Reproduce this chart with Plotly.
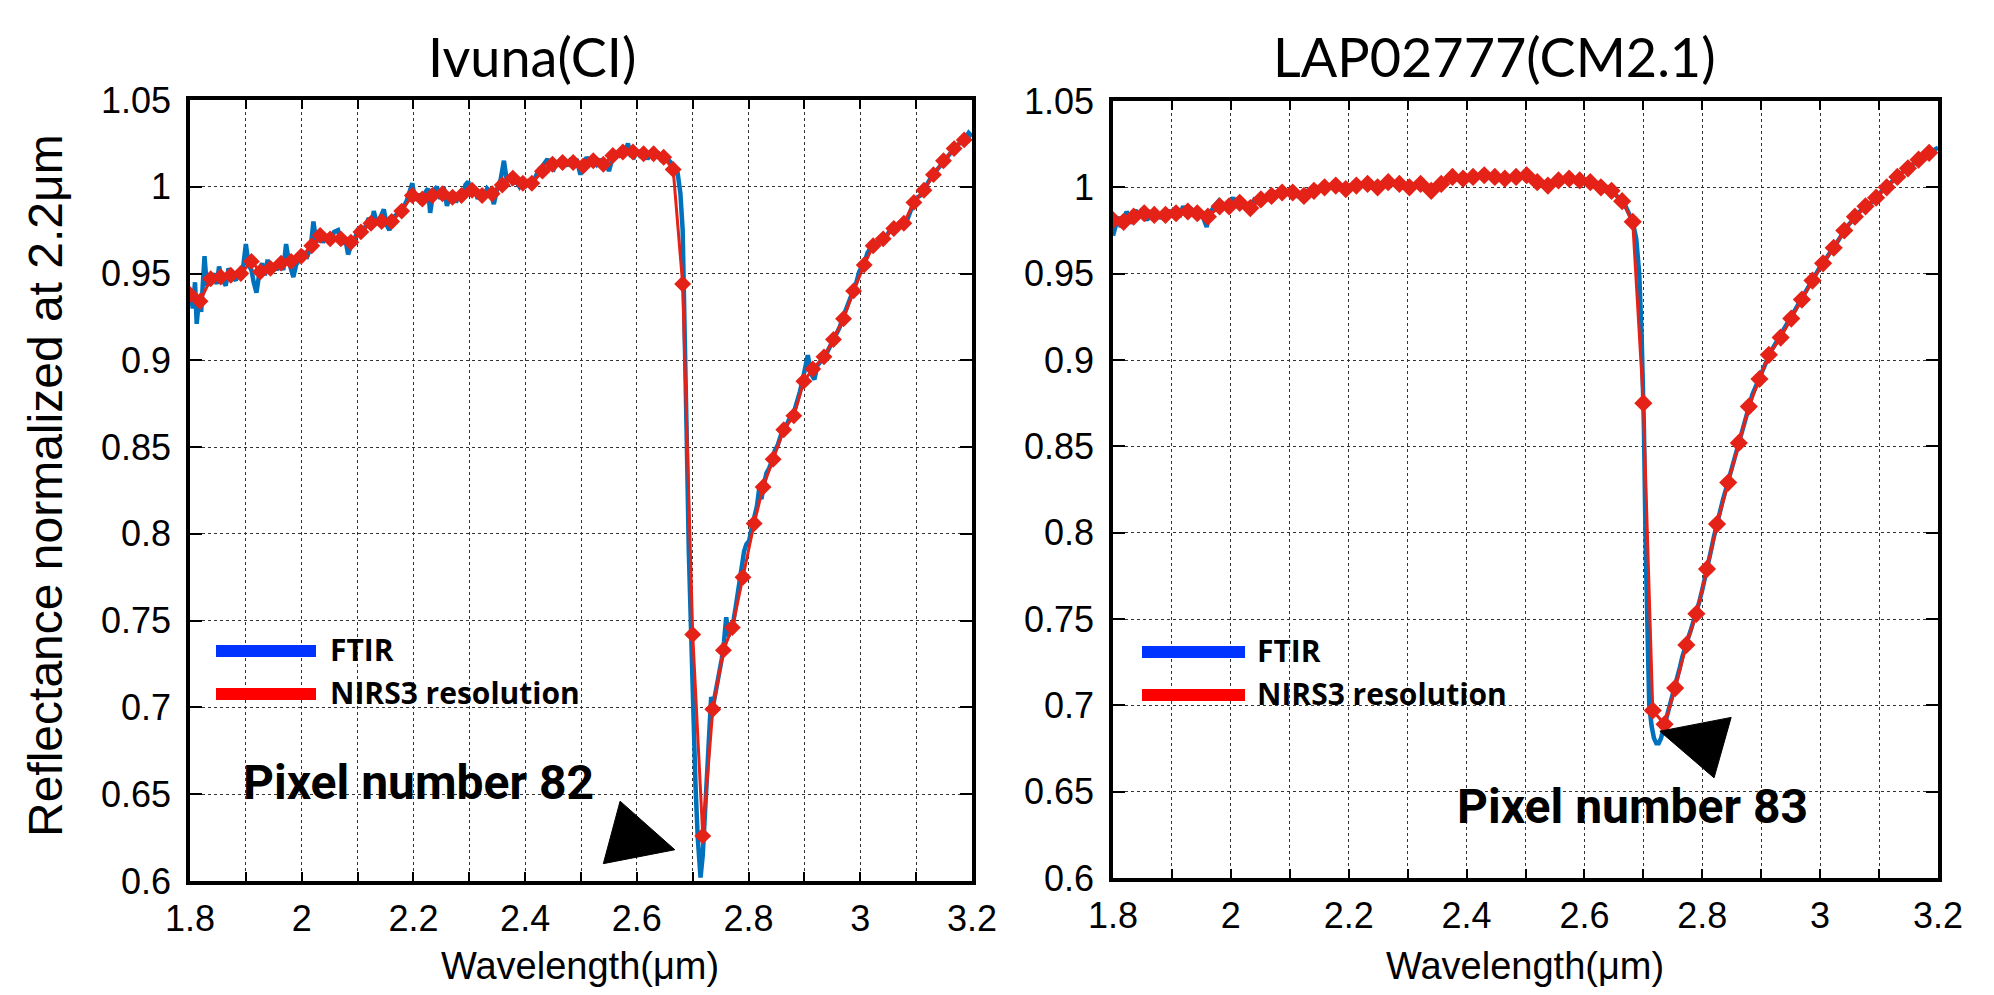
import plotly.graph_objects as go

W, H = 1994, 995

# ---------------- data ----------------
titles = ["Ivuna(CI)", "LAP02777(CM2.1)"]
legend_labels = ["FTIR", "NIRS3 resolution"]
pixel_labels = ["Pixel number 82", "Pixel number 83"]
x_title = "Wavelength(\u03bcm)"
y_title = "Reflectance normalized at 2.2\u03bcm"

x_tickvals = [1.8, 1.9, 2.0, 2.1, 2.2, 2.3, 2.4, 2.5, 2.6, 2.7, 2.8, 2.9, 3.0, 3.1, 3.2]
x_ticktext = ["1.8", "", "2", "", "2.2", "", "2.4", "", "2.6", "", "2.8", "", "3", "", "3.2"]
y_tickvals = [0.6, 0.65, 0.7, 0.75, 0.8, 0.85, 0.9, 0.95, 1.0, 1.05]
y_ticktext = ["0.6", "0.65", "0.7", "0.75", "0.8", "0.85", "0.9", "0.95", "1", "1.05"]

# Ivuna - NIRS3 resolution
ivuna_nirs_x = [1.800, 1.818, 1.837, 1.855, 1.873, 1.891, 1.910, 1.926, 1.944, 1.963,
                1.981, 1.999, 2.018, 2.033, 2.051, 2.070, 2.088, 2.106, 2.124, 2.143,
                2.161, 2.179, 2.198, 2.216, 2.234, 2.252, 2.270, 2.286, 2.305, 2.323,
                2.341, 2.359, 2.378, 2.396, 2.412, 2.431, 2.449, 2.467, 2.486, 2.504,
                2.522, 2.540, 2.557, 2.575, 2.593, 2.612, 2.630, 2.648, 2.665, 2.682,
                2.700, 2.718, 2.736, 2.755, 2.771, 2.790, 2.810, 2.826, 2.844, 2.863,
                2.881, 2.899, 2.915, 2.935, 2.952, 2.970, 2.988, 3.007, 3.023, 3.041,
                3.060, 3.078, 3.096, 3.114, 3.131, 3.149, 3.168, 3.186]
ivuna_nirs_y = [0.938, 0.934, 0.947, 0.948, 0.949, 0.950, 0.957, 0.951, 0.953, 0.956,
                0.957, 0.960, 0.966, 0.972, 0.970, 0.970, 0.968, 0.974, 0.979, 0.980,
                0.980, 0.986, 0.995, 0.993, 0.995, 0.996, 0.994, 0.995, 0.998, 0.995,
                0.996, 1.001, 1.005, 1.002, 1.002, 1.009, 1.013, 1.014, 1.014, 1.012,
                1.015, 1.013, 1.018, 1.020, 1.020, 1.019, 1.019, 1.017, 1.010, 0.944,
                0.742, 0.626, 0.699, 0.733, 0.746, 0.775, 0.806, 0.827, 0.843, 0.860,
                0.868, 0.888, 0.895, 0.902, 0.912, 0.924, 0.940, 0.955, 0.966, 0.970,
                0.976, 0.979, 0.991, 0.998, 1.007, 1.015, 1.022, 1.027]

# Ivuna - FTIR
ivuna_ftir_x = [1.800, 1.805, 1.809, 1.812, 1.816, 1.820, 1.826, 1.830, 1.836, 1.842,
                1.848, 1.852, 1.857, 1.864, 1.869, 1.874, 1.882, 1.887, 1.893, 1.900,
                1.905, 1.910, 1.914, 1.919, 1.924, 1.929, 1.934, 1.939, 1.944, 1.950,
                1.956, 1.962, 1.967, 1.972, 1.977, 1.985, 1.990, 1.996, 2.003, 2.010,
                2.016, 2.021, 2.026, 2.032, 2.038, 2.045, 2.051, 2.058, 2.065, 2.072,
                2.078, 2.083, 2.089, 2.095, 2.101, 2.108, 2.114, 2.120, 2.125, 2.129,
                2.135, 2.141, 2.147, 2.152, 2.157, 2.163, 2.170, 2.176, 2.182, 2.188,
                2.193, 2.198, 2.203, 2.208, 2.214, 2.220, 2.226, 2.230, 2.236, 2.242,
                2.248, 2.254, 2.260, 2.266, 2.271, 2.276, 2.282, 2.288, 2.293, 2.298,
                2.303, 2.309, 2.315, 2.320, 2.326, 2.332, 2.338, 2.344, 2.350, 2.356,
                2.362, 2.367, 2.373, 2.378, 2.384, 2.390, 2.396, 2.402, 2.408, 2.413,
                2.419, 2.425, 2.431, 2.440, 2.445, 2.451, 2.456, 2.462, 2.468, 2.474,
                2.480, 2.486, 2.492, 2.499, 2.505, 2.510, 2.516, 2.522, 2.528, 2.534,
                2.540, 2.545, 2.550, 2.556, 2.562, 2.568, 2.575, 2.580, 2.584, 2.589,
                2.595, 2.601, 2.607, 2.613, 2.619, 2.625, 2.631, 2.637, 2.643, 2.649,
                2.655, 2.661, 2.667, 2.673, 2.678, 2.682, 2.686, 2.689, 2.693, 2.697,
                2.701, 2.705, 2.709, 2.714, 2.718, 2.722, 2.726, 2.730, 2.733, 2.737,
                2.742, 2.747, 2.752, 2.756, 2.760, 2.764, 2.768, 2.772, 2.777, 2.782,
                2.787, 2.792, 2.796, 2.801, 2.806, 2.811, 2.815, 2.819, 2.823, 2.827,
                2.832, 2.837, 2.842, 2.847, 2.852, 2.857, 2.862, 2.867, 2.872, 2.877,
                2.882, 2.887, 2.892, 2.897, 2.902, 2.906, 2.910, 2.914, 2.918, 2.923,
                2.928, 2.933, 2.938, 2.943, 2.948, 2.953, 2.958, 2.963, 2.968, 2.973,
                2.978, 2.983, 2.988, 2.993, 2.998, 3.003, 3.008, 3.013, 3.018, 3.023,
                3.028, 3.033, 3.038, 3.043, 3.048, 3.053, 3.058, 3.063, 3.068, 3.073,
                3.078, 3.083, 3.088, 3.093, 3.098, 3.103, 3.108, 3.113, 3.118, 3.123,
                3.128, 3.133, 3.138, 3.143, 3.148, 3.153, 3.158, 3.163, 3.168, 3.173,
                3.178, 3.183, 3.188, 3.194, 3.200]
ivuna_ftir_y = [0.940, 0.930, 0.945, 0.921, 0.935, 0.928, 0.960, 0.943, 0.946, 0.950,
                0.944, 0.954, 0.947, 0.943, 0.953, 0.949, 0.946, 0.952, 0.948, 0.967,
                0.955, 0.952, 0.945, 0.939, 0.950, 0.956, 0.949, 0.958, 0.951, 0.955,
                0.952, 0.958, 0.952, 0.967, 0.957, 0.948, 0.955, 0.958, 0.962, 0.960,
                0.965, 0.980, 0.968, 0.973, 0.968, 0.972, 0.968, 0.974, 0.975, 0.967,
                0.970, 0.961, 0.967, 0.970, 0.976, 0.972, 0.978, 0.982, 0.976, 0.986,
                0.978, 0.983, 0.987, 0.978, 0.975, 0.982, 0.984, 0.987, 0.988, 0.992,
                0.998, 1.002, 0.992, 0.996, 0.990, 0.996, 0.999, 0.985, 0.998, 1.000,
                0.993, 1.000, 0.989, 0.995, 0.997, 0.991, 0.996, 0.993, 1.001, 1.003,
                0.996, 1.000, 0.993, 0.997, 0.994, 0.999, 0.997, 0.990, 0.999, 1.004,
                1.015, 1.004, 1.006, 1.002, 1.003, 1.000, 1.003, 1.001, 1.004, 1.000,
                1.006, 1.010, 1.012, 1.016, 1.011, 1.010, 1.014, 1.013, 1.016, 1.012,
                1.015, 1.013, 1.016, 1.007, 1.013, 1.017, 1.014, 1.016, 1.013, 1.016,
                1.011, 1.014, 1.009, 1.016, 1.019, 1.018, 1.021, 1.020, 1.025, 1.018,
                1.017, 1.021, 1.017, 1.020, 1.016, 1.019, 1.017, 1.020, 1.016, 1.018,
                1.016, 1.014, 1.012, 1.008, 0.996, 0.975, 0.920, 0.860, 0.790, 0.740,
                0.690, 0.655, 0.625, 0.602, 0.615, 0.640, 0.668, 0.695, 0.706, 0.702,
                0.710, 0.720, 0.728, 0.738, 0.752, 0.741, 0.745, 0.748, 0.758, 0.770,
                0.782, 0.790, 0.794, 0.796, 0.804, 0.811, 0.816, 0.826, 0.820, 0.828,
                0.835, 0.838, 0.842, 0.848, 0.851, 0.856, 0.861, 0.862, 0.866, 0.869,
                0.871, 0.876, 0.882, 0.889, 0.898, 0.903, 0.896, 0.891, 0.889, 0.897,
                0.899, 0.900, 0.903, 0.906, 0.910, 0.912, 0.916, 0.919, 0.924, 0.928,
                0.932, 0.936, 0.940, 0.945, 0.951, 0.954, 0.957, 0.962, 0.965, 0.967,
                0.966, 0.969, 0.968, 0.971, 0.972, 0.975, 0.974, 0.977, 0.976, 0.978,
                0.980, 0.980, 0.985, 0.990, 0.993, 0.994, 0.995, 0.998, 1.001, 1.004,
                1.006, 1.008, 1.010, 1.013, 1.015, 1.017, 1.019, 1.021, 1.022, 1.024,
                1.025, 1.026, 1.028, 1.031, 1.029]

# LAP02777 - NIRS3 resolution
lap_nirs_x = [1.800, 1.818, 1.835, 1.853, 1.870, 1.889, 1.907, 1.927, 1.943, 1.961,
              1.981, 1.997, 2.015, 2.033, 2.051, 2.069, 2.087, 2.105, 2.124, 2.141,
              2.159, 2.178, 2.195, 2.213, 2.232, 2.249, 2.267, 2.286, 2.303, 2.322,
              2.340, 2.357, 2.376, 2.394, 2.411, 2.430, 2.448, 2.465, 2.484, 2.502,
              2.520, 2.538, 2.556, 2.574, 2.592, 2.610, 2.628, 2.646, 2.664, 2.682,
              2.700, 2.716, 2.736, 2.754, 2.773, 2.790, 2.808, 2.825, 2.844, 2.862,
              2.879, 2.897, 2.913, 2.933, 2.951, 2.969, 2.987, 3.005, 3.023, 3.041,
              3.059, 3.077, 3.095, 3.113, 3.131, 3.149, 3.167, 3.185]
lap_nirs_y = [0.981, 0.980, 0.983, 0.985, 0.984, 0.984, 0.985, 0.986, 0.985, 0.983,
              0.989, 0.989, 0.991, 0.988, 0.993, 0.995, 0.997, 0.997, 0.995, 0.998,
              1.000, 1.001, 0.999, 1.001, 1.002, 1.000, 1.003, 1.002, 1.000, 1.002,
              0.998, 1.002, 1.006, 1.005, 1.006, 1.007, 1.006, 1.005, 1.006, 1.007,
              1.003, 1.001, 1.004, 1.005, 1.004, 1.003, 1.000, 0.998, 0.992, 0.980,
              0.875, 0.697, 0.689, 0.710, 0.735, 0.753, 0.779, 0.805, 0.829, 0.852,
              0.873, 0.889, 0.903, 0.913, 0.924, 0.935, 0.946, 0.956, 0.965, 0.975,
              0.983, 0.989, 0.994, 1.000, 1.006, 1.011, 1.016, 1.020]

# LAP02777 - FTIR
lap_ftir_x = [1.800, 1.804, 1.809, 1.813, 1.818, 1.823, 1.828, 1.833, 1.838, 1.843,
              1.848, 1.853, 1.858, 1.863, 1.868, 1.873, 1.878, 1.884, 1.889, 1.894,
              1.899, 1.904, 1.909, 1.914, 1.919, 1.924, 1.929, 1.934, 1.939, 1.944,
              1.949, 1.954, 1.959, 1.964, 1.969, 1.974, 1.979, 1.984, 1.989, 1.994,
              1.999, 2.004, 2.009, 2.014, 2.019, 2.024, 2.029, 2.034, 2.040, 2.046,
              2.052, 2.058, 2.064, 2.070, 2.076, 2.082, 2.088, 2.094, 2.100, 2.106,
              2.112, 2.118, 2.124, 2.130, 2.136, 2.142, 2.148, 2.154, 2.160, 2.166,
              2.172, 2.178, 2.184, 2.190, 2.196, 2.202, 2.208, 2.214, 2.220, 2.226,
              2.232, 2.238, 2.244, 2.250, 2.256, 2.262, 2.268, 2.274, 2.280, 2.286,
              2.292, 2.298, 2.304, 2.310, 2.316, 2.322, 2.328, 2.334, 2.340, 2.346,
              2.352, 2.358, 2.364, 2.370, 2.376, 2.382, 2.388, 2.394, 2.400, 2.406,
              2.412, 2.418, 2.424, 2.430, 2.436, 2.442, 2.448, 2.454, 2.460, 2.466,
              2.472, 2.478, 2.484, 2.490, 2.496, 2.502, 2.508, 2.514, 2.520, 2.526,
              2.532, 2.538, 2.544, 2.550, 2.556, 2.562, 2.568, 2.574, 2.580, 2.586,
              2.592, 2.598, 2.604, 2.610, 2.616, 2.622, 2.628, 2.634, 2.640, 2.646,
              2.652, 2.658, 2.664, 2.670, 2.676, 2.682, 2.688, 2.693, 2.697, 2.701,
              2.704, 2.707, 2.710, 2.714, 2.718, 2.722, 2.726, 2.730, 2.734, 2.738,
              2.742, 2.746, 2.750, 2.754, 2.758, 2.762, 2.766, 2.770, 2.775, 2.780,
              2.785, 2.790, 2.795, 2.800, 2.805, 2.810, 2.815, 2.820, 2.825, 2.830,
              2.835, 2.840, 2.845, 2.850, 2.855, 2.860, 2.865, 2.870, 2.875, 2.880,
              2.885, 2.890, 2.895, 2.900, 2.905, 2.910, 2.915, 2.920, 2.925, 2.930,
              2.935, 2.940, 2.945, 2.950, 2.955, 2.960, 2.965, 2.970, 2.975, 2.980,
              2.985, 2.990, 2.995, 3.000, 3.005, 3.010, 3.015, 3.020, 3.025, 3.030,
              3.035, 3.040, 3.045, 3.050, 3.055, 3.060, 3.065, 3.070, 3.075, 3.080,
              3.085, 3.090, 3.095, 3.100, 3.105, 3.110, 3.115, 3.120, 3.125, 3.130,
              3.135, 3.140, 3.145, 3.150, 3.155, 3.160, 3.165, 3.170, 3.175, 3.180,
              3.185, 3.190, 3.195, 3.200]
lap_ftir_y = [0.972, 0.978, 0.983, 0.977, 0.980, 0.986, 0.982, 0.979, 0.987, 0.983,
              0.986, 0.984, 0.981, 0.985, 0.983, 0.986, 0.982, 0.985, 0.984, 0.987,
              0.983, 0.988, 0.985, 0.984, 0.989, 0.986, 0.984, 0.987, 0.985, 0.983,
              0.986, 0.982, 0.977, 0.985, 0.988, 0.990, 0.992, 0.988, 0.990, 0.989,
              0.991, 0.994, 0.990, 0.992, 0.990, 0.989, 0.988, 0.990, 0.993, 0.992,
              0.994, 0.994, 0.996, 0.995, 0.997, 0.997, 0.996, 0.998, 0.997, 0.996,
              0.995, 0.995, 0.996, 0.998, 0.998, 0.999, 1.000, 1.000, 1.000, 1.001,
              1.001, 1.001, 1.000, 1.000, 1.000, 1.001, 1.001, 1.001, 1.002, 1.002,
              1.001, 1.001, 1.001, 1.001, 1.002, 1.002, 1.002, 1.002, 1.002, 1.001,
              1.001, 1.001, 1.001, 1.001, 1.001, 1.001, 1.000, 0.999, 0.999, 1.000,
              1.002, 1.003, 1.004, 1.005, 1.005, 1.005, 1.005, 1.005, 1.006, 1.006,
              1.006, 1.006, 1.007, 1.007, 1.006, 1.006, 1.006, 1.005, 1.005, 1.005,
              1.005, 1.005, 1.006, 1.006, 1.006, 1.006, 1.005, 1.004, 1.003, 1.002,
              1.001, 1.001, 1.002, 1.004, 1.004, 1.005, 1.005, 1.005, 1.004, 1.004,
              1.004, 1.003, 1.003, 1.003, 1.002, 1.001, 1.000, 0.999, 0.998, 0.998,
              0.996, 0.994, 0.992, 0.989, 0.985, 0.980, 0.970, 0.950, 0.915, 0.860,
              0.790, 0.730, 0.700, 0.688, 0.681, 0.678, 0.678, 0.681, 0.686, 0.691,
              0.697, 0.702, 0.706, 0.710, 0.716, 0.722, 0.728, 0.733, 0.738, 0.743,
              0.748, 0.753, 0.760, 0.767, 0.774, 0.781, 0.790, 0.798, 0.806, 0.813,
              0.819, 0.825, 0.831, 0.837, 0.843, 0.849, 0.856, 0.863, 0.869, 0.875,
              0.880, 0.884, 0.888, 0.893, 0.897, 0.901, 0.904, 0.907, 0.910, 0.912,
              0.915, 0.918, 0.921, 0.924, 0.927, 0.930, 0.933, 0.936, 0.939, 0.942,
              0.945, 0.948, 0.951, 0.954, 0.956, 0.959, 0.962, 0.964, 0.966, 0.969,
              0.972, 0.974, 0.977, 0.979, 0.981, 0.983, 0.985, 0.987, 0.989, 0.990,
              0.991, 0.992, 0.994, 0.996, 0.998, 1.000, 1.001, 1.003, 1.004, 1.006,
              1.007, 1.009, 1.010, 1.011, 1.013, 1.014, 1.016, 1.017, 1.018, 1.019,
              1.020, 1.021, 1.022, 1.023]

# pointer triangles (data coordinates of each panel)
tri_left_x = [2.540, 2.570, 2.668]
tri_left_y = [0.610, 0.646, 0.618]
tri_right_x = [2.728, 2.849, 2.820]
tri_right_y = [0.685, 0.693, 0.658]

# ---------------- style ----------------
BLUE = "#0072BD"
RED = "#E52218"
LEG_BLUE = "#0033FF"
LEG_RED = "#FF0000"
TICK_FONT = dict(family="Liberation Sans, Arial, sans-serif", size=36, color="black")

fig = go.Figure()

panels = [
    dict(xa="x", ya="y", fx=ivuna_ftir_x, fy=ivuna_ftir_y, nx=ivuna_nirs_x, ny=ivuna_nirs_y, msize=13),
    dict(xa="x2", ya="y2", fx=lap_ftir_x, fy=lap_ftir_y, nx=lap_nirs_x, ny=lap_nirs_y, msize=14),
]
for p in panels:
    fig.add_trace(go.Scatter(x=p["fx"], y=p["fy"], xaxis=p["xa"], yaxis=p["ya"], mode="lines",
                             line=dict(color=BLUE, width=4.5), showlegend=False, name="FTIR"))
    fig.add_trace(go.Scatter(x=p["nx"], y=p["ny"], xaxis=p["xa"], yaxis=p["ya"], mode="lines+markers",
                             line=dict(color=RED, width=3),
                             marker=dict(symbol="diamond", size=p["msize"], color=RED),
                             showlegend=False, name="NIRS3 resolution"))

# pixel-box geometry
L = dict(x0=190, x1=972, y0=100, y1=881)
R = dict(x0=1113, x1=1938, y0=101, y1=878)


def dom_x(b):
    return [b["x0"] / W, b["x1"] / W]


def dom_y(b):
    return [1 - b["y1"] / H, 1 - b["y0"] / H]


common_x = dict(range=[1.8, 3.2], tickmode="array", tickvals=x_tickvals, ticktext=x_ticktext,
                showgrid=True, gridcolor="#333", griddash="dot", gridwidth=1.3,
                ticks="inside", ticklen=9, tickwidth=1.5, tickcolor="black",
                showline=True, linecolor="black", linewidth=3.5, mirror="ticks",
                tickfont=TICK_FONT, zeroline=False, ticklabelstandoff=3, automargin=False)
common_y = dict(range=[0.6, 1.05], tickmode="array", tickvals=y_tickvals, ticktext=y_ticktext,
                showgrid=True, gridcolor="#333", griddash="dot", gridwidth=1.3,
                ticks="inside", ticklen=12, tickwidth=1.5, tickcolor="black",
                showline=True, linecolor="black", linewidth=3.5, mirror="ticks",
                tickfont=TICK_FONT, zeroline=False, ticklabelstandoff=8, automargin=False)

fig.update_layout(
    width=W, height=H, margin=dict(l=0, r=0, t=0, b=0, pad=0, autoexpand=False),
    paper_bgcolor="white", plot_bgcolor="white", showlegend=False,
    xaxis=dict(domain=dom_x(L), anchor="y", **common_x),
    yaxis=dict(domain=dom_y(L), anchor="x", **common_y),
    xaxis2=dict(domain=dom_x(R), anchor="y2", **common_x),
    yaxis2=dict(domain=dom_y(R), anchor="x2", **common_y),
)


def px(x):
    return x / W


def py(y):
    return 1 - y / H


annotations = []
shapes = []

# panel titles
for t, cx in zip(titles, [532, 1494]):
    annotations.append(dict(text=t, x=px(cx), y=py(57), xref="paper", yref="paper",
                            showarrow=False, xanchor="center", yanchor="middle",
                            font=dict(family="Lato, sans-serif", size=54, color="black")))
# x titles
for cx in [580, 1525]:
    annotations.append(dict(text=x_title, x=px(cx), y=py(966), xref="paper", yref="paper",
                            showarrow=False, xanchor="center", yanchor="middle",
                            font=dict(family="Liberation Sans, Arial, sans-serif", size=38, color="black")))
# y title
annotations.append(dict(text=y_title, x=px(45), y=py(486), xref="paper", yref="paper",
                        showarrow=False, textangle=-90, xanchor="center", yanchor="middle",
                        font=dict(family="Liberation Sans, Arial, sans-serif", size=48, color="black")))

# legends (drawn manually with long thick keys)
for (bx0, bx1, tx, ys) in [(216, 316, 328, (651, 694)), (1142, 1245, 1255, (652, 695))]:
    for lab, col, yy in zip(legend_labels, [LEG_BLUE, LEG_RED], ys):
        shapes.append(dict(type="line", xref="paper", yref="paper",
                           x0=px(bx0), x1=px(bx1), y0=py(yy), y1=py(yy),
                           line=dict(color=col, width=12)))
        annotations.append(dict(text=lab, x=px(tx), y=py(yy - 2), xref="paper", yref="paper",
                                showarrow=False, xanchor="left", yanchor="middle",
                                font=dict(family="Open Sans, sans-serif", size=30, color="black",
                                          weight=700)))

# pixel number labels
for lab, cx, cy in zip(pixel_labels, [418, 1632], [782, 806]):
    annotations.append(dict(text=lab, x=px(cx), y=py(cy), xref="paper", yref="paper",
                            showarrow=False, xanchor="center", yanchor="middle",
                            font=dict(family="Roboto, sans-serif", size=48, color="black", weight=700)))

# pointer triangles
for xs, ys, xr, yr in [(tri_left_x, tri_left_y, "x", "y"), (tri_right_x, tri_right_y, "x2", "y2")]:
    path = "M {} {} L {} {} L {} {} Z".format(xs[0], ys[0], xs[1], ys[1], xs[2], ys[2])
    shapes.append(dict(type="path", path=path, xref=xr, yref=yr,
                       fillcolor="black", line=dict(color="black", width=1)))

fig.update_layout(annotations=annotations, shapes=shapes)
fig.write_html("out.html")
